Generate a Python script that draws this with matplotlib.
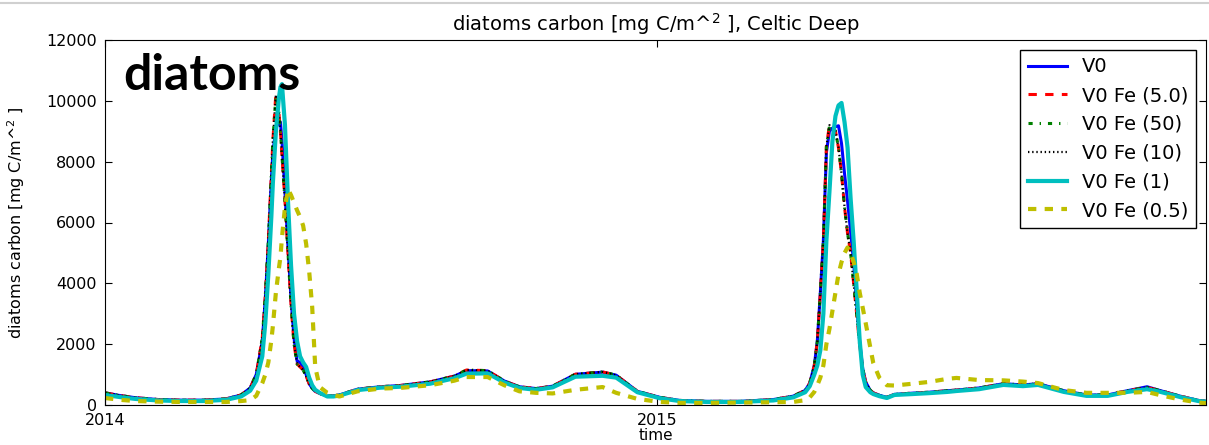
import numpy as np
import matplotlib
matplotlib.use("Agg")
import matplotlib.pyplot as plt
from matplotlib.lines import Line2D

plt.rcParams['lines.scale_dashes'] = False

# days since 2014-01-01
days = [0, 10, 20, 35, 50, 65, 80, 90, 96, 100, 104, 106, 108, 110, 111, 113, 115, 116, 117, 119,
        121, 123, 125, 127, 129, 131, 133, 135, 137, 139, 142, 147, 151, 155, 167, 182, 195, 215, 231, 239,
        253, 264, 274, 285, 296, 311, 329, 338, 352, 367, 380, 398, 420, 442, 455, 463, 466, 469, 471, 473,
        475, 477, 479, 481, 483, 485, 487, 489, 491, 493, 495, 497, 499, 501, 503, 506, 508, 512, 517, 522,
        534, 545, 557, 563, 578, 594, 607, 617, 634, 649, 663, 676, 689, 698, 711, 723, 728]

v0 = [400, 310, 240, 180, 160, 160, 200, 330, 560, 1000, 2100, 3500, 5300, 7400, 8300, 9100, 9300, 9300, 8700, 7000,
      5200, 3500, 2200, 1450, 1400, 1250, 1000, 700, 550, 450, 380, 290, 300, 330, 520, 600, 640, 760, 950, 1130,
      1120, 790, 600, 540, 620, 1010, 1080, 980, 450, 250, 150, 120, 120, 180, 290, 480, 720, 1300, 2100, 3700,
      5400, 8300, 9000, 9100, 9150, 9180, 8600, 7600, 6700, 5700, 4700, 3300, 2100, 1200, 750, 480, 400, 320, 250, 350,
      390, 420, 470, 490, 560, 700, 660, 700, 470, 330, 330, 470, 600, 470, 290, 150, 120]

fe5 = [400, 310, 240, 180, 160, 160, 200, 330, 560, 1000, 2200, 3600, 5400, 7600, 8700, 10250, 9600, 9000, 8200, 6700,
       5000, 3300, 2000, 1350, 1250, 1150, 950, 700, 550, 450, 380, 290, 300, 330, 520, 600, 640, 760, 950, 1150,
       1130, 790, 600, 540, 620, 1010, 1090, 980, 450, 250, 150, 120, 120, 180, 290, 480, 720, 1300, 2100, 3700,
       5400, 8500, 9200, 9150, 9000, 8460, 7600, 6500, 5640, 5000, 4000, 3000, 1970, 1200, 750, 480, 400, 320, 250, 350,
       390, 420, 470, 490, 560, 700, 660, 700, 470, 330, 330, 470, 580, 470, 290, 150, 120]

fe50 = [400, 310, 240, 180, 160, 160, 200, 330, 560, 1000, 2200, 3600, 5400, 7600, 8700, 10150, 9600, 9000, 8200, 6700,
        5000, 3300, 2000, 1350, 1250, 1150, 950, 700, 550, 450, 380, 290, 300, 330, 520, 600, 640, 760, 950, 1150,
        1130, 790, 600, 540, 620, 1010, 1090, 980, 450, 250, 150, 120, 120, 180, 290, 480, 720, 1300, 2100, 3700,
        5400, 8500, 9150, 9100, 9000, 8460, 7600, 6500, 5640, 5000, 4000, 3000, 1970, 1200, 750, 480, 400, 320, 250, 350,
        390, 420, 470, 490, 560, 700, 660, 700, 470, 330, 330, 470, 580, 470, 290, 150, 120]

fe10 = [400, 310, 240, 180, 160, 160, 200, 330, 560, 1000, 2200, 3600, 5400, 7600, 8700, 10200, 9600, 9000, 8200, 6700,
        5000, 3300, 2000, 1350, 1250, 1150, 950, 700, 550, 450, 380, 290, 300, 330, 520, 600, 640, 760, 950, 1150,
        1130, 790, 600, 540, 620, 1010, 1090, 980, 450, 250, 150, 120, 120, 180, 290, 480, 720, 1300, 2100, 3700,
        5400, 8500, 9200, 9150, 9000, 8460, 7600, 6500, 5640, 5000, 4000, 3000, 1970, 1200, 750, 480, 400, 320, 250, 350,
        390, 420, 470, 490, 560, 700, 660, 700, 470, 330, 330, 470, 580, 470, 290, 150, 120]

fe1 = [330, 260, 200, 150, 130, 130, 170, 280, 470, 800, 1600, 2700, 4300, 6200, 7300, 9000, 10100, 10450, 10550, 9200,
       6700, 4600, 3000, 2100, 1600, 1400, 1250, 900, 650, 500, 400, 280, 280, 310, 490, 570, 600, 700, 880, 1030,
       1040, 740, 560, 500, 580, 930, 960, 900, 420, 220, 130, 100, 100, 150, 250, 420, 620, 1000, 1300, 1800,
       3000, 5400, 7000, 8680, 9500, 9850, 9930, 9300, 8460, 6800, 5400, 3800, 2130, 1000, 590, 420, 360, 290, 230, 330,
       360, 390, 430, 460, 520, 660, 620, 660, 430, 300, 300, 430, 520, 430, 260, 130, 110]

fe05 = [230, 170, 130, 110, 100, 100, 100, 130, 160, 300, 720, 1000, 1400, 2130, 2600, 3700, 4500, 4860, 5500, 6500,
        7100, 6900, 6650, 6400, 6180, 5900, 5300, 4400, 3220, 1250, 590, 400, 330, 280, 450, 540, 560, 650, 800, 920,
        920, 650, 450, 400, 380, 500, 590, 400, 200, 100, 70, 70, 80, 90, 100, 160, 250, 430, 650, 900,
        1300, 2000, 2500, 3100, 3700, 4300, 4700, 5000, 5180, 5000, 4700, 4330, 3700, 3200, 2690, 1900, 1380, 900, 650, 640,
        700, 760, 860, 890, 820, 810, 770, 720, 490, 400, 400, 400, 430, 320, 180, 80, 60]

labels = ['V0', 'V0 Fe (5.0)', 'V0 Fe (50)', 'V0 Fe (10)', 'V0 Fe (1)', 'V0 Fe (0.5)']

t0 = np.datetime64('2014-01-01')
dates = t0 + np.array(days).astype('timedelta64[D]')

fig = plt.figure(figsize=(12.09, 4.45), dpi=100)
ax = fig.add_axes([105/1209, 1-405/445, 1101/1209, 365/445])

ax.plot(dates, v0, color='b', lw=2.2, label=labels[0])
ax.plot(dates, fe5, color='r', lw=2.2, dashes=(6, 6), label=labels[1])
ax.plot(dates, fe50, color='g', lw=2.2, dashes=(3, 5, 1, 5), label=labels[2])
ax.plot(dates, fe10, color='k', lw=1.6, dashes=(1, 2), label=labels[3])
ax.plot(dates, fe1, color=(0, 0.75, 0.75), lw=3, label=labels[4])
ax.plot(dates, fe05, color=(0.75, 0.75, 0), lw=3, dashes=(6, 6), label=labels[5])

ax.set_xlim(t0, t0 + np.timedelta64(728, 'D'))
ax.set_ylim(0, 12000)
ax.set_yticks([0, 2000, 4000, 6000, 8000, 10000, 12000])
ax.set_xticks([np.datetime64('2014-01-01'), np.datetime64('2015-01-01')])
ax.set_xticklabels(['2014', '2015'])
ax.tick_params(direction='in', length=5, labelsize=11.5, pad=6, top=True, right=True)

ax.set_title('diatoms carbon [mg C/m^$^2$ ], Celtic Deep', fontsize=14, pad=6.5)
ax.set_ylabel('diatoms carbon [mg C/m^$^2$ ]', fontsize=11.5)
ax.yaxis.set_label_coords(-(105-27)/1101, 0.5)
ax.set_xlabel('time', fontsize=11)
ax.xaxis.set_label_coords(0.5, -(428-405)/365)

leg = ax.legend(loc='upper right', fontsize=14, fancybox=False, framealpha=1,
                edgecolor='black', handlelength=2, borderaxespad=0.5)
leg.get_frame().set_linewidth(1)

fig.text(123/1209, 1-90/445, 'diatoms', family='Lato', weight='bold', fontsize=36,
         va='baseline', ha='left')

fig.add_artist(Line2D([0, 1], [1-3/445, 1-3/445], transform=fig.transFigure, color='#d0d0d0', lw=1.5))

fig.savefig('out.png', dpi=100)
